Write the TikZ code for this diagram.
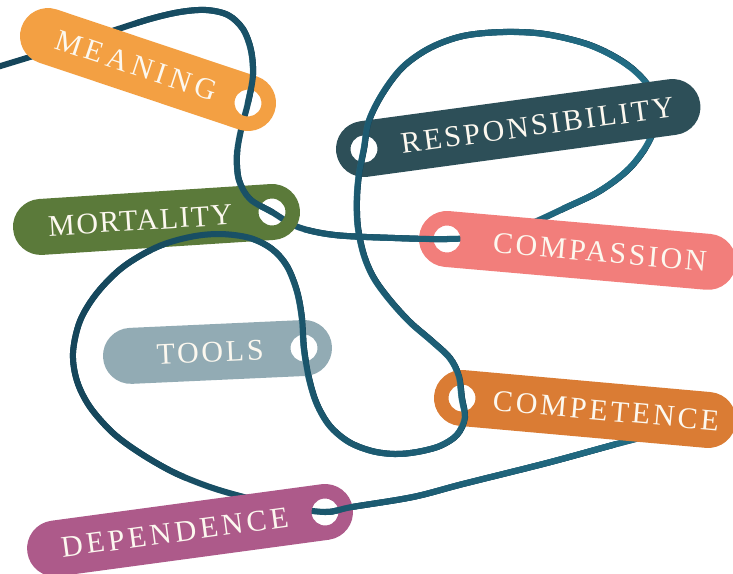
\documentclass[tikz,border=0pt]{standalone}
\usepackage{fontspec}
\newfontfamily\tagfont{Liberation Serif}
\usetikzlibrary{fadings}

\definecolor{meaningC}{HTML}{F3A043}
\definecolor{respC}{HTML}{2D4F58}
\definecolor{mortC}{HTML}{5B7A3A}
\definecolor{compaC}{HTML}{F27E7B}
\definecolor{toolsC}{HTML}{92ABB4}
\definecolor{competC}{HTML}{DA7C34}
\definecolor{depC}{HTML}{AD5A8A}
\definecolor{strDark}{HTML}{15455A}
\definecolor{strLight}{HTML}{25738B}
\definecolor{tagText}{HTML}{FCF8EF}

\tikzfading[name=stringfade, left color=transparent!100, right color=transparent!0]

% tag with its hole at the right end
% #1 hole, #2 angle, #3 distance between end centres, #4 colour,
% #5 label offset along the tag, #6 letter spacing, #7 label, #8 node name
\newcommand\tagR[8]{%
  \begin{scope}[shift={(#1)}, rotate=#2]
    \fill[#4, even odd rule, rounded corners=27.9pt] (-#3-28,-28) rectangle (28,28) (0,0) circle[radius=13.5];
    \node[tagtext, transform shape] (#8) at (#5,0) {\addfontfeatures{LetterSpace=#6}#7};
  \end{scope}}
% tag with its hole at the left end
\newcommand\tagL[8]{%
  \begin{scope}[shift={(#1)}, rotate=#2]
    \fill[#4, even odd rule, rounded corners=27.9pt] (-28,-28) rectangle (#3+28,28) (0,0) circle[radius=13.5];
    \node[tagtext, transform shape] (#8) at (#5,0) {\addfontfeatures{LetterSpace=#6}#7};
  \end{scope}}

% the string, threaded through the holes
\def\stringpath{plot[smooth, tension=0.55] coordinates {
  (sStart) (30,57) (72,44) (112,31) (150,19) (180,12) (206,10) (228,15) (243,29) (251,50) (253,75)
  (hMeaning) (241,130) (237,155) (239,180) (250,199)
  (hMortality) (298,227) (335,235) (395,238)
  (hCompassion) (495,236) (530,224) (565,208) (600,191) (630,168) (650,140) (657,112) (648,85)
  (625,63) (590,45) (545,34) (503,32) (463,36) (430,48) (403,67) (383,93) (369,121)
  (hResp) (359,175) (357,200) (358,227) (364,255) (374,278) (390,300) (410,322) (432,341) (450,358) (459,376)
  (hCompetence) (465,418) (457,435) (440,446) (417,452) (395,454) (372,451) (349,442) (330,426) (317,404) (309,378)
  (hTools) (302,318) (297,291) (287,266) (272,249) (250,238) (220,234) (190,237) (157,247) (123,267) (97,293)
  (80,321) (73,353) (77,381) (90,407) (113,433) (140,453) (173,472) (207,486) (240,496) (282,506)
  (hDep) (352,507) (413,497) (463,484) (547,463) (613,445) (648,436) (sEnd)}}

\newcommand\drawstring{%
  \draw[strdark] \stringpath;
  \draw[strlight] \stringpath;}

\begin{document}
\begin{tikzpicture}[x=1pt, y=-1pt,
  tagtext/.style={text=tagText, font=\tagfont\fontsize{30}{30}\selectfont, inner sep=0pt},
  strdark/.style={draw=strDark, line width=6pt, line cap=round, line join=round},
  strlight/.style={draw=strLight, line width=6pt, line cap=round, line join=round,
    path fading=stringfade, fit fading=false,
    fading transform={shift={(390,286.5)}, xscale=13.2, yscale=9}}]
  \useasboundingbox (0,0) rectangle (733,573);
  \fill[white] (0,0) rectangle (733,573);
  \clip (0,0) rectangle (733,573);

  % hole centres and the two loose ends of the string
  \coordinate (hMeaning) at (248,103);
  \coordinate (hResp) at (364,149);
  \coordinate (hMortality) at (272,212);
  \coordinate (hCompassion) at (447,239);
  \coordinate (hTools) at (304,348);
  \coordinate (hCompetence) at (462,398);
  \coordinate (hDep) at (325,512);
  \coordinate (sStart) at (-6,68);
  \coordinate (sEnd) at (682,428);

  % string beneath the tags
  \drawstring

  % tags
  \tagR{hMeaning}{-18.5}{210.9}{meaningC}{-118}{15}{MEANING}{tMeaning}
  \tagL{hResp}{7.75}{311.3}{respC}{175}{9}{RESPONSIBILITY}{tResp}
  \tagR{hMortality}{3.7}{231.5}{mortC}{-132}{5}{MORTALITY}{tMortality}
  \tagL{hCompassion}{-5.0}{262}{compaC}{153.5}{8.7}{COMPASSION}{tCompassion}
  \tagR{hTools}{2.6}{173.2}{toolsC}{-94}{9}{TOOLS}{tTools}
  \tagL{hCompetence}{-5.1}{247}{competC}{144.6}{9.9}{COMPETENCE}{tCompetence}
  \tagR{hDep}{7.7}{272.4}{depC}{-151.6}{12}{DEPENDENCE}{tDep}

  % string passing over the tags, except where it runs behind them
  \begin{scope}[even odd rule]
    \clip (-50,-50) rectangle (800,650)
      (-20,-20) rectangle (135,85)
      (212,103) rectangle (285,150)
      (268,218) -- (282,200) -- (308,205) -- (308,232) -- (282,232) -- cycle
      (447,195) rectangle (562,275)
      (628,68) rectangle (675,150)
      (185,470) rectangle (325,540)
      (615,395) rectangle (700,465);
    \drawstring
  \end{scope}
\end{tikzpicture}
\end{document}
